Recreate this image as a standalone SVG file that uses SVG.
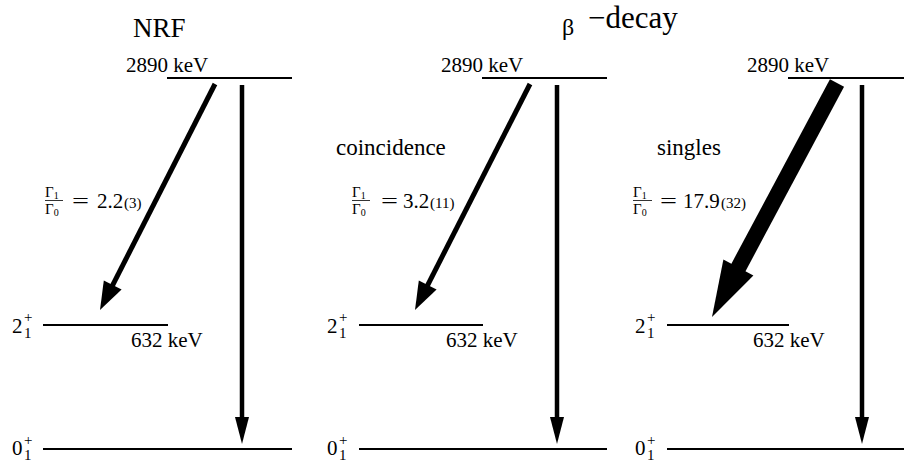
<svg xmlns="http://www.w3.org/2000/svg" width="904" height="462" viewBox="0 0 904 462">
<text x="133" y="37" font-family="Liberation Serif" font-size="27">NRF</text>
<text x="562" y="35" font-family="Liberation Serif" font-size="24">&#946;</text>
<text x="588" y="28" font-family="Liberation Serif" font-size="31">&#8722;decay</text>

<g id="panel-nrf">
  <g id="nrf-2890">
    <line x1="167" y1="78" x2="292" y2="78" stroke="#000" stroke-width="2"/>
    <text x="126" y="72" font-family="Liberation Serif" font-size="21">2890 keV</text>
  </g>
  <g id="nrf-632">
    <line x1="43" y1="325" x2="168" y2="325" stroke="#000" stroke-width="2"/>
    <text x="131" y="347" font-family="Liberation Serif" font-size="21">632 keV</text>
    <text x="12" y="333" font-family="Liberation Serif" font-size="21">2</text>
    <text x="24" y="322" font-family="Liberation Serif" font-size="15">+</text>
    <text x="24" y="338" font-family="Liberation Serif" font-size="15">1</text>
  </g>
  <g id="nrf-0">
    <line x1="43" y1="449" x2="292" y2="449" stroke="#000" stroke-width="2"/>
    <text x="12" y="455" font-family="Liberation Serif" font-size="21">0</text>
    <text x="24" y="445" font-family="Liberation Serif" font-size="15">+</text>
    <text x="24" y="460" font-family="Liberation Serif" font-size="15">1</text>
  </g>
  <g id="nrf-ratio">
    <text x="45" y="197" font-family="Liberation Serif" font-size="15">&#915;<tspan font-size="10" dy="2">1</tspan></text>
    <line x1="45" y1="200.5" x2="63" y2="200.5" stroke="#000" stroke-width="0.8"/>
    <text x="45" y="214" font-family="Liberation Serif" font-size="15">&#915;<tspan font-size="10" dy="2">0</tspan></text>
    <text x="72" y="208" font-family="Liberation Serif" font-size="22" textLength="17" lengthAdjust="spacingAndGlyphs">=</text>
    <text x="97" y="208" font-family="Liberation Serif" font-size="21">2.2</text>
    <text x="124" y="208" font-family="Liberation Serif" font-size="15">(3)</text>
  </g>
</g>

<g id="panel-coinc">
  <text x="336" y="155" font-family="Liberation Serif" font-size="23">coincidence</text>
  <g id="coinc-2890">
    <line x1="482" y1="78" x2="607" y2="78" stroke="#000" stroke-width="2"/>
    <text x="441" y="72" font-family="Liberation Serif" font-size="21">2890 keV</text>
  </g>
  <g id="coinc-632">
    <line x1="359" y1="325" x2="483" y2="325" stroke="#000" stroke-width="2"/>
    <text x="446" y="347" font-family="Liberation Serif" font-size="21">632 keV</text>
    <text x="327" y="333" font-family="Liberation Serif" font-size="21">2</text>
    <text x="339" y="322" font-family="Liberation Serif" font-size="15">+</text>
    <text x="339" y="338" font-family="Liberation Serif" font-size="15">1</text>
  </g>
  <g id="coinc-0">
    <line x1="359" y1="449" x2="607" y2="449" stroke="#000" stroke-width="2"/>
    <text x="327" y="455" font-family="Liberation Serif" font-size="21">0</text>
    <text x="339" y="445" font-family="Liberation Serif" font-size="15">+</text>
    <text x="339" y="460" font-family="Liberation Serif" font-size="15">1</text>
  </g>
  <g id="coinc-ratio">
    <text x="352" y="197" font-family="Liberation Serif" font-size="15">&#915;<tspan font-size="10" dy="2">1</tspan></text>
    <line x1="352" y1="200.5" x2="370" y2="200.5" stroke="#000" stroke-width="0.8"/>
    <text x="352" y="214" font-family="Liberation Serif" font-size="15">&#915;<tspan font-size="10" dy="2">0</tspan></text>
    <text x="381" y="208" font-family="Liberation Serif" font-size="22" textLength="17" lengthAdjust="spacingAndGlyphs">=</text>
    <text x="403" y="208" font-family="Liberation Serif" font-size="21">3.2</text>
    <text x="430" y="208" font-family="Liberation Serif" font-size="15">(11)</text>
  </g>
</g>

<g id="panel-singles">
  <text x="657" y="155" font-family="Liberation Serif" font-size="23">singles</text>
  <g id="sing-2890">
    <line x1="788" y1="78" x2="913" y2="78" stroke="#000" stroke-width="2"/>
    <text x="747" y="72" font-family="Liberation Serif" font-size="21">2890 keV</text>
  </g>
  <g id="sing-632">
    <line x1="667" y1="325" x2="789" y2="325" stroke="#000" stroke-width="2"/>
    <text x="753" y="347" font-family="Liberation Serif" font-size="21">632 keV</text>
    <text x="635" y="333" font-family="Liberation Serif" font-size="21">2</text>
    <text x="647" y="322" font-family="Liberation Serif" font-size="15">+</text>
    <text x="647" y="338" font-family="Liberation Serif" font-size="15">1</text>
  </g>
  <g id="sing-0">
    <line x1="667" y1="449" x2="913" y2="449" stroke="#000" stroke-width="2"/>
    <text x="635" y="455" font-family="Liberation Serif" font-size="21">0</text>
    <text x="647" y="445" font-family="Liberation Serif" font-size="15">+</text>
    <text x="647" y="460" font-family="Liberation Serif" font-size="15">1</text>
  </g>
  <g id="sing-ratio">
    <text x="633" y="197" font-family="Liberation Serif" font-size="15">&#915;<tspan font-size="10" dy="2">1</tspan></text>
    <line x1="633" y1="200.5" x2="652" y2="200.5" stroke="#000" stroke-width="0.8"/>
    <text x="633" y="214" font-family="Liberation Serif" font-size="15">&#915;<tspan font-size="10" dy="2">0</tspan></text>
    <text x="660" y="208" font-family="Liberation Serif" font-size="22" textLength="17" lengthAdjust="spacingAndGlyphs">=</text>
    <text x="683" y="208" font-family="Liberation Serif" font-size="21">17.9</text>
    <text x="721" y="208" font-family="Liberation Serif" font-size="15">(32)</text>
  </g>
</g>

<g id="connectors">
  <line stroke="#000" stroke-width="5" x1="215" y1="84" x2="111.8" y2="286.8"/>
  <polygon fill="#000" points="100,310 121.6,289.6 103.8,280.5"/>
  <line stroke="#000" stroke-width="4.5" x1="242" y1="85" x2="242" y2="419"/>
  <polygon fill="#000" points="242,444 235,417 249,417"/>
  <line stroke="#000" stroke-width="5" x1="530" y1="84" x2="426.8" y2="286.8"/>
  <polygon fill="#000" points="415,310 436.6,289.6 418.8,280.5"/>
  <line stroke="#000" stroke-width="4.5" x1="557" y1="85" x2="557" y2="419"/>
  <polygon fill="#000" points="557,444 550,417 564,417"/>
  <line stroke="#000" stroke-width="16" x1="837" y1="83" x2="737.4" y2="269.4"/>
  <polygon fill="#000" points="712,317 753.4,275.6 723.4,259.6"/>
  <line stroke="#000" stroke-width="4.5" x1="862" y1="85" x2="862" y2="419"/>
  <polygon fill="#000" points="862,444 855,417 869,417"/>
</g>
</svg>
